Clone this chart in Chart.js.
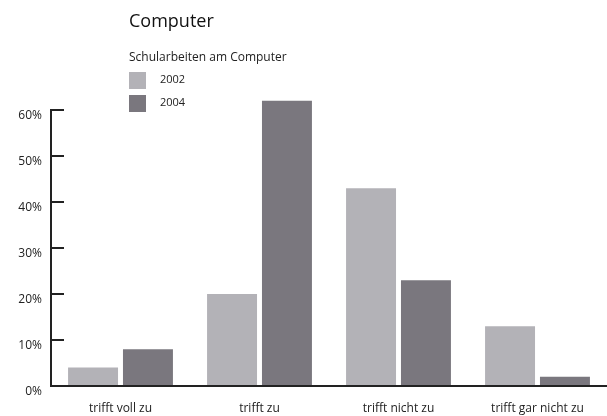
<!DOCTYPE html>
<html>
<head>
<meta charset="utf-8">
<script src="https://cdn.jsdelivr.net/npm/chart.js@4/dist/chart.umd.min.js"></script>
<style>
  body { margin: 0; background: #fff; font-family: 'Open Sans', sans-serif; color: #222; }
  #wrap { position: relative; width: 607px; height: 416px; }
  #chart { position: absolute; left: 0; top: 0; }
  .txt { position: absolute; white-space: nowrap; }
  #title { left: 129px; top: 11px; font-size: 18px; line-height: 18px; color: #111; }
  #subtitle { left: 129px; top: 51px; font-size: 12px; line-height: 12px; }
  .sw { position: absolute; left: 129px; width: 17px; height: 17px; }
  .lg { left: 160px; font-size: 11px; line-height: 11px; }
</style>
</head>
<body>
<div id="wrap">
  <canvas id="chart" width="607" height="416"></canvas>
  <div class="txt" id="title">Computer</div>
  <div class="txt" id="subtitle">Schularbeiten am Computer</div>
  <div id="legend"></div>
</div>
<script>
const categories = ['trifft voll zu', 'trifft zu', 'trifft nicht zu', 'trifft gar nicht zu'];
const seriesNames = ['2002', '2004'];
const values2002 = [4, 20, 43, 13];
const values2004 = [8, 62, 23, 2];
const yTicks = [0, 10, 20, 30, 40, 50, 60];

const colors = ['#b3b2b7', '#7a777e'];
const axisColor = '#222';

const chart = new Chart(document.getElementById('chart'), {
    type: 'bar',
    data: {
        labels: categories,
        datasets: [values2002, values2004].map((vals, i) => ({
            label: seriesNames[i],
            data: vals,
            backgroundColor: colors[i],
            borderWidth: 0,
            categoryPercentage: 0.79,
            barPercentage: 0.91,
            clip: false
        }))
    },
    options: {
        responsive: false,
        animation: false,
        layout: { padding: { top: 110, left: 0, right: 0, bottom: 0 } },
        plugins: { legend: { display: false }, tooltip: { enabled: false } },
        scales: {
            x: {
                grid: { display: false, drawTicks: false },
                border: { display: true, color: axisColor, width: 2 },
                ticks: { color: '#222', font: { family: 'Open Sans', size: 12 }, padding: 15, maxRotation: 0 },
                afterFit: s => { s.height = 30; }
            },
            y: {
                min: 0,
                max: 60,
                afterBuildTicks: s => { s.ticks = yTicks.map(v => ({ value: v })); },
                grid: { drawOnChartArea: false, drawTicks: true, tickLength: -13, color: axisColor, lineWidth: 2 },
                border: { display: true, color: axisColor, width: 2 },
                ticks: {
                    color: '#222',
                    font: { family: 'Open Sans', size: 12 },
                    padding: 22,
                    labelOffset: 6,
                    callback: v => v + '%'
                },
                afterFit: s => { s.width = 51; }
            }
        }
    }
});

// legend as html, built from the chart datasets
const legend = document.getElementById('legend');
chart.data.datasets.forEach((ds, i) => {
    const sw = document.createElement('div');
    sw.className = 'sw';
    sw.style.top = (72 + i * 23) + 'px';
    sw.style.background = ds.backgroundColor;
    legend.appendChild(sw);
    const t = document.createElement('div');
    t.className = 'txt lg';
    t.style.top = (73 + i * 23) + 'px';
    t.textContent = ds.label;
    legend.appendChild(t);
});
</script>
</body>
</html>
